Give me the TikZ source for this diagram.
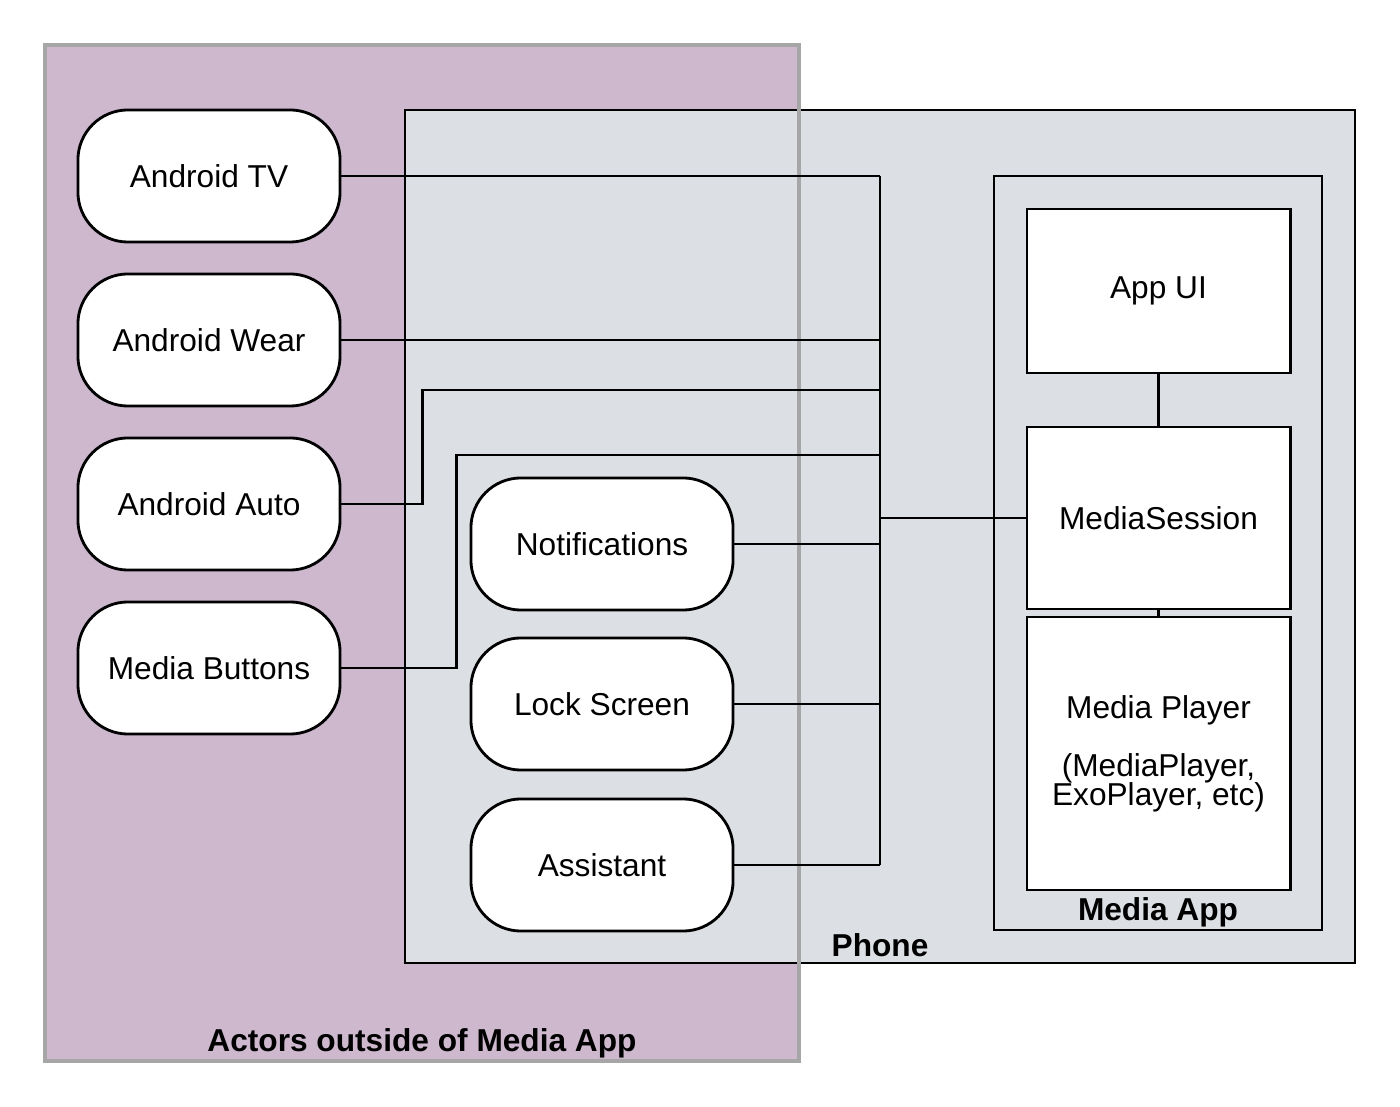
\documentclass[tikz,border=0pt]{standalone}
\usepackage{fontspec}
\setmainfont{Liberation Sans}
\usetikzlibrary{positioning}
\definecolor{actorbg}{HTML}{CDB8CE}
\definecolor{phonebg}{HTML}{DCDFE3}
\newcommand\tightlines{\lineskiplimit=-100pt\relax}
\tikzset{
	actor/.style={draw,fill=white,rounded corners=0.5cm,line width=0.8pt,minimum width=2.62cm,minimum height=1.32cm,font=\fontsize{9}{8.25}\selectfont},
	block/.style={draw,fill=white,line width=0.8pt,minimum width=2.63cm,inner sep=2pt,align=center,font=\fontsize{9}{8.25}\selectfont\tightlines},
	title/.style={font=\bfseries\fontsize{9}{11}\selectfont}
}
\begin{document}
\begin{tikzpicture}[x=0.01cm,y=-0.01cm,line width=0.8pt]
					\useasboundingbox (0,0) rectangle (1400,1107);
					\fill[actorbg] (45,45) rectangle (799,1061);
					\draw[fill=phonebg] (405,110) rectangle (1355,963);
					\draw[gray!70,line width=1pt] (45,45) rectangle (799,1061);
					\draw[fill=phonebg] (994,176) rectangle (1322,930);
					\path 
					(209,176) node[actor] (tv) {Android TV}
					(209,340) node[actor] (wear) {Android Wear}
					(209,504) node[actor] (auto) {Android Auto}
					(209,668) node[actor] (buttons) {Media Buttons}
					(602,544) node[actor] (notif) {Notifications}
					(602,704) node[actor] (lock) {Lock Screen}
					(602,865) node[actor] (assist) {Assistant}
					(1158.5,291) node[block,minimum height=1.64cm] (appui) {App UI}
					(1158.5,518) node[block,minimum height=1.82cm] (session) {MediaSession}
					(1158.5,753.5) node[block,minimum height=2.73cm] (player) {Media Player\\[8.25pt](MediaPlayer,\\ExoPlayer, etc)}
					(880,945) node[title] (phone) {Phone}
					(1158,912) node[title] (mediaapp) {Media App}
					(422,1043) node[title] (outside) {Actors outside of Media App}
					;
					\coordinate (bustop) at (880,176);
					\coordinate (busbot) at (880,865);
					\coordinate (autoend) at (880,390);
					\coordinate (buttonsend) at (880,455);
					\draw (bustop) -- (busbot);
					\foreach \n in {tv,wear,notif,lock,assist} \draw (\n.east) -- (\n.east -| bustop);
					\draw (auto.east) -- ++(81,0) |- (autoend);
					\draw (buttons.east) -- ++(115,0) |- (buttonsend);
					\draw (session.west) -- (session.west -| bustop);
					\draw (appui) -- (session);
					\draw (session) -- (player);
			\end{tikzpicture}
\end{document}
